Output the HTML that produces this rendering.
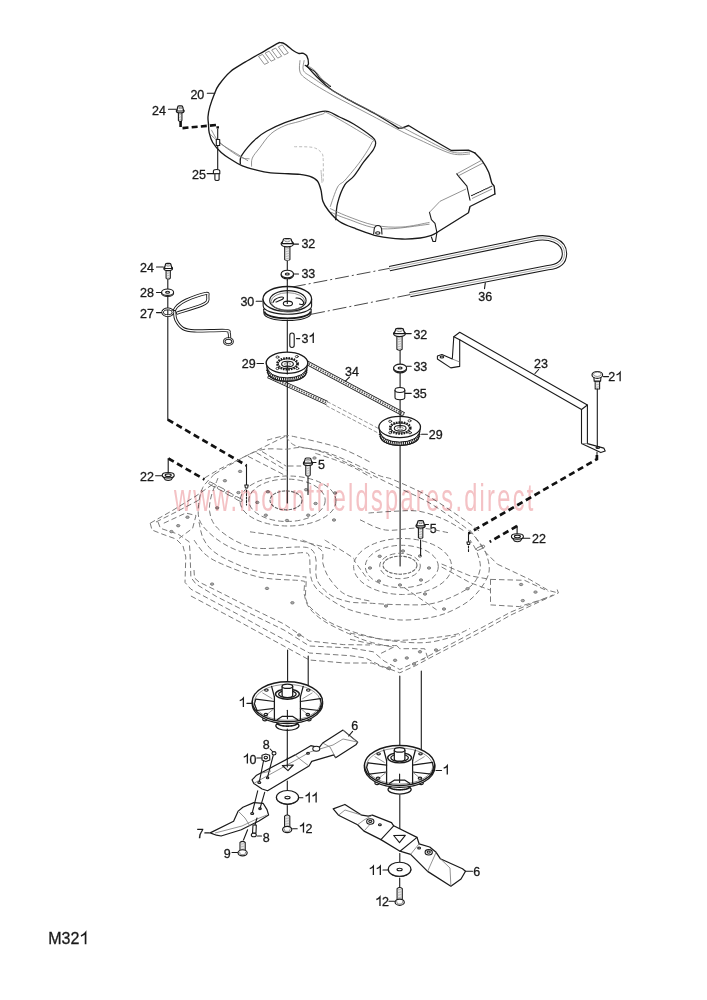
<!DOCTYPE html>
<html><head><meta charset="utf-8"><style>
html,body{margin:0;padding:0;background:#fff;}
svg{display:block;}
text{font-family:"Liberation Sans",sans-serif;font-size:12.5px;fill:#1a1a1a;stroke:#1a1a1a;stroke-width:0.3px;}
.k{fill:none;stroke:#1a1a1a;stroke-width:1.1;stroke-linejoin:round;stroke-linecap:round;}
.kt{fill:none;stroke:#1a1a1a;stroke-width:1.35;stroke-linejoin:round;stroke-linecap:round;}
.kf{fill:#fff;stroke:#1a1a1a;stroke-width:1.1;stroke-linejoin:round;}
.g{fill:none;stroke:#777;stroke-width:0.8;}
.gl{fill:none;stroke:#aaa;stroke-width:0.8;}
.d{fill:none;stroke:#7a7a7a;stroke-width:1;stroke-dasharray:5.5 3;}
.hd{fill:none;stroke:#111;stroke-width:2.7;stroke-dasharray:6.2 3.8;}
.dd{fill:none;stroke:#333;stroke-width:0.9;stroke-dasharray:14 3 2 3;}
.wm{font-size:38px;fill:#f0a8ac;}
</style></head><body>
<svg width="707" height="1000" viewBox="0 0 707 1000">
<text x="190.4" y="99.0">20</text>
<text x="152.1" y="115.0">24</text>
<text x="301.4" y="248.2">32</text>
<text x="301.4" y="277.7">33</text>
<text x="140.1" y="272.4">24</text>
<text x="140.1" y="296.5">28</text>
<text x="140.1" y="317.7">27</text>
<text x="240.4" y="305.5">30</text>
<text x="301.4" y="342.9">3</text>
<path d="M313.23 342.90 L313.23 334.02 Q311.73 335.98 309.60 336.51" fill="none" stroke="#1a1a1a" stroke-width="1.31" stroke-linejoin="miter"/>
<text x="241.8" y="367.6">29</text>
<text x="345.0" y="375.5">34</text>
<text x="413.4" y="338.8">32</text>
<text x="413.4" y="370.6">33</text>
<text x="412.9" y="397.8">35</text>
<text x="428.8" y="439.1">29</text>
<text x="478.2" y="300.9">36</text>
<text x="534.1" y="368.1">23</text>
<text x="608.3" y="381.2">2</text>
<path d="M620.13 381.20 L620.13 372.32 Q618.63 374.28 616.50 374.81" fill="none" stroke="#1a1a1a" stroke-width="1.31" stroke-linejoin="miter"/>
<text x="140.1" y="480.5">22</text>
<text x="318.1" y="469.2">5</text>
<text x="429.8" y="533.4">5</text>
<text x="532.1" y="543.2">22</text>
<path d="M243.38 707.00 L243.38 698.12 Q241.88 700.08 239.75 700.61" fill="none" stroke="#1a1a1a" stroke-width="1.31" stroke-linejoin="miter"/>
<text x="351.3" y="729.9">6</text>
<text x="262.7" y="748.7">8</text>
<path d="M247.38 763.50 L247.38 754.62 Q245.88 756.58 243.75 757.11" fill="none" stroke="#1a1a1a" stroke-width="1.31" stroke-linejoin="miter"/>
<text x="249.4" y="763.5">0</text>
<path d="M309.18 802.40 L309.18 793.52 Q307.68 795.48 305.55 796.01" fill="none" stroke="#1a1a1a" stroke-width="1.31" stroke-linejoin="miter"/>
<path d="M316.12 802.40 L316.12 793.52 Q314.62 795.48 312.50 796.01" fill="none" stroke="#1a1a1a" stroke-width="1.31" stroke-linejoin="miter"/>
<path d="M303.48 832.60 L303.48 823.73 Q301.98 825.68 299.85 826.21" fill="none" stroke="#1a1a1a" stroke-width="1.31" stroke-linejoin="miter"/>
<text x="305.6" y="832.6">2</text>
<text x="196.8" y="838.0">7</text>
<text x="262.7" y="842.2">8</text>
<text x="223.7" y="857.5">9</text>
<path d="M447.28 774.60 L447.28 765.73 Q445.78 767.68 443.65 768.21" fill="none" stroke="#1a1a1a" stroke-width="1.31" stroke-linejoin="miter"/>
<path d="M373.38 875.00 L373.38 866.12 Q371.88 868.08 369.75 868.61" fill="none" stroke="#1a1a1a" stroke-width="1.31" stroke-linejoin="miter"/>
<path d="M380.32 875.00 L380.32 866.12 Q378.82 868.08 376.70 868.61" fill="none" stroke="#1a1a1a" stroke-width="1.31" stroke-linejoin="miter"/>
<path d="M379.98 905.90 L379.98 897.02 Q378.48 898.98 376.35 899.51" fill="none" stroke="#1a1a1a" stroke-width="1.31" stroke-linejoin="miter"/>
<text x="382.1" y="905.9">2</text>
<text x="473.3" y="876.3">6</text>
<text x="48.2" y="944.2" style="font-size:16px">M32</text>
<path d="M85.56 944.20 L85.56 932.84 Q83.64 935.34 80.92 936.02" fill="none" stroke="#1a1a1a" stroke-width="1.68" stroke-linejoin="miter"/>
<path class="kt" d="M208.5 124.1 C208.4 122.9 207.8 119.7 208.0 116.8 C208.2 113.9 208.8 110.4 209.9 106.6 C211.0 102.8 212.9 97.5 214.4 93.9 C215.9 90.3 216.1 88.8 218.8 85.0 C221.5 81.2 226.2 75.2 230.6 71.4 C235.0 67.6 239.3 65.6 245.0 62.2 C250.7 58.8 259.4 53.9 264.8 50.8 C270.2 47.7 275.1 44.8 277.7 43.4 C280.3 42.0 279.5 42.6 280.6 42.7 C281.8 42.8 282.5 42.5 284.6 43.9 C286.8 45.2 291.2 49.2 293.5 50.8 C295.8 52.4 297.2 52.9 298.5 53.3 C299.8 53.7 300.9 53.3 301.4 53.3" />
<path class="kt" d="M301.4 53.3 C301.7 53.3 302.5 53.0 303.4 53.4 C304.3 53.8 305.9 54.2 306.8 55.9 C307.7 57.6 308.5 61.9 308.5 63.6 C308.5 65.3 307.2 65.6 307.0 66.0" />
<path class="k" d="M305.1 65.3 C306.0 65.9 308.5 67.6 310.2 68.7 C311.9 69.8 313.6 70.4 315.3 72.1 C317.0 73.8 318.4 76.9 320.4 78.9 C322.4 80.9 325.5 82.6 327.2 83.9 C328.9 85.2 329.9 86.1 330.5 86.5" />
<path class="g" d="M308.5 66.1 C309.4 66.7 312.0 68.2 313.6 69.5 C315.2 70.8 316.6 72.4 318.0 74.0 C319.4 75.6 320.0 77.0 322.0 79.0 C324.0 81.0 328.7 84.8 330.0 86.0" />
<path class="kt" d="M307.0 66.0 C308.5 67.7 312.1 72.2 316.0 76.0 C319.9 79.8 324.7 84.8 330.5 89.0 C336.3 93.2 343.2 96.7 350.9 100.9 C358.5 105.2 368.5 110.0 376.4 114.5 C384.3 119.0 394.7 125.8 398.4 128.1" />
<path class="kt" d="M398.4 128.1 L401.8 128.1 L408.6 125.5 L420.0 132.5 L451.3 150.5 L468.5 150.1 L474.7 152.8" />
<path class="kt" d="M474.7 152.8 C476.0 154.2 480.2 158.1 482.5 161.3 C484.8 164.5 487.1 168.6 488.7 172.2 C490.2 175.8 490.9 180.8 491.8 183.1 C492.7 185.4 493.6 184.4 494.1 186.2 C494.6 188.0 494.8 192.7 494.9 194.0" />
<path class="kt" d="M494.9 194.0 L470.0 206.5 L468.5 212.7 L436.9 232.5" />
<path class="k" d="M431.4 237.0 L433.0 241.5 L435.5 241.5 L436.9 232.5" />
<path class="kt" d="M436.9 232.5 C436.0 233.0 434.2 234.4 431.4 235.3 C428.6 236.2 425.2 237.4 420.3 238.0 C415.4 238.6 409.1 239.3 402.0 239.0 C394.9 238.7 385.7 237.9 378.0 236.2 C370.3 234.5 362.4 231.2 356.0 228.8 C349.6 226.4 344.0 224.6 339.4 221.5 C334.8 218.4 331.1 213.9 328.4 210.5 C325.6 207.1 324.1 204.7 322.9 201.3 C321.7 197.9 321.9 193.6 321.0 190.2 C320.1 186.8 319.2 183.3 317.4 181.0 C315.6 178.7 312.9 177.5 310.0 176.4 C307.1 175.3 304.2 174.9 300.0 174.4 C295.8 173.9 289.8 173.8 284.9 173.6 C280.0 173.3 275.4 173.5 270.7 172.9 C266.0 172.3 261.3 171.3 256.6 170.1 C251.9 168.9 246.7 167.7 242.4 165.9 C238.2 164.1 234.6 161.8 231.1 159.5 C227.6 157.2 224.3 155.2 221.2 152.4 C218.1 149.6 214.7 145.8 212.7 142.5 C210.7 139.2 209.9 135.7 209.2 132.6 C208.5 129.5 208.6 125.5 208.5 124.1" />
<path class="g" d="M300.0 60.2 C300.0 62.2 298.6 68.7 300.0 72.1 C301.4 75.5 302.9 76.5 308.5 80.5 C314.1 84.5 324.0 90.3 333.9 95.8 C343.8 101.3 356.6 107.6 367.9 113.6 C379.2 119.5 393.1 127.1 401.8 131.5 C410.5 135.9 411.8 136.3 420.0 140.0 C428.2 143.7 443.0 151.3 451.3 153.6 C459.6 155.9 466.9 153.9 470.0 154.0" />
<path class="g" d="M304.2 60.2 C304.1 61.9 302.1 67.6 303.4 70.4 C304.7 73.2 306.8 73.7 311.9 77.2 C317.0 80.7 324.6 86.1 333.9 91.5 C343.2 96.9 356.6 103.6 367.9 109.5 C379.2 115.4 393.1 122.5 401.8 127.0 C410.5 131.5 411.8 132.4 420.0 136.5 C428.2 140.6 443.0 149.2 451.3 151.8 C459.6 154.4 466.9 152.0 470.0 152.0" />
<path class="g" d="M258.5 56.3 L262.5 54.4 L268.5 62.5 L264.5 64.4Z" />
<path class="g" d="M265.1 53.1 L269.1 51.2 L275.1 59.4 L271.1 61.2Z" />
<path class="g" d="M271.7 50.0 L275.7 48.1 L281.7 56.2 L277.7 58.1Z" />
<path class="g" d="M278.3 46.8 L282.3 44.9 L288.3 53.0 L284.3 54.9Z" />
<path class="kt" d="M240.3 163.7 C240.4 162.5 239.7 159.5 241.0 156.7 C242.3 153.9 245.5 149.9 248.1 146.8 C250.7 143.7 253.5 140.9 256.6 138.3 C259.7 135.7 261.8 133.8 266.5 131.2 C271.2 128.6 278.6 125.2 284.9 122.7 C291.2 120.2 297.8 118.2 304.1 116.3 C310.4 114.4 318.2 112.0 322.5 111.3 C326.8 110.6 326.8 111.0 329.6 112.0 C332.4 113.0 335.5 115.0 339.5 117.0 C343.5 119.0 348.2 120.7 353.6 124.0 C359.0 127.3 368.3 133.7 372.0 136.8 C375.7 139.9 375.4 140.3 375.6 142.4 C375.9 144.5 375.5 146.2 373.5 149.5 C371.5 152.8 366.8 157.7 363.5 162.2 C360.2 166.7 356.7 172.7 353.6 176.4 C350.5 180.2 347.6 180.2 344.9 184.7 C342.2 189.1 339.1 197.3 337.6 203.1 C336.1 208.9 336.0 216.9 335.7 219.7" style="stroke-width:1.3"/>
<path class="g" d="M251.6 166.6 C251.7 165.2 251.0 161.2 252.3 158.1 C253.6 155.0 256.3 152.2 259.4 148.2 C262.5 144.2 266.4 137.8 270.7 134.0 C274.9 130.2 280.0 127.7 284.9 125.6 C289.8 123.5 293.7 123.2 300.0 121.3 C306.3 119.4 317.6 115.3 322.5 114.1 C327.4 112.9 321.6 110.1 329.6 114.1 C337.6 118.1 363.5 133.5 370.6 138.2 C377.7 142.9 373.6 138.6 372.0 142.4 C370.4 146.2 365.2 154.5 360.7 160.8 C356.2 167.1 349.0 175.6 345.2 180.0 C341.4 184.4 340.1 182.5 337.6 187.0 C335.1 191.5 331.4 203.5 330.2 206.8" />
<path class="gl" d="M294.2 146.7 C297.3 146.8 308.1 146.5 312.6 147.4 C317.1 148.3 319.3 150.3 321.1 152.3 C322.9 154.3 322.9 154.5 323.2 159.4 C323.5 164.3 323.2 178.2 323.2 182.0" stroke-dasharray="3 2"/>
<path class="gl" d="M321.0 170.0 C321.2 172.2 321.8 180.8 322.0 182.9" />
<path class="g" d="M211.3 129.8 C212.7 131.9 215.1 138.0 219.8 142.5 C224.5 147.0 234.7 154.0 239.6 156.7 C244.5 159.4 247.8 158.5 249.5 158.8" />
<path class="g" d="M210.0 134.0 C211.9 135.7 216.7 140.7 221.2 144.0 C225.7 147.3 232.3 151.0 236.8 153.8 C241.3 156.6 246.2 159.7 248.1 160.9" />
<path class="g" d="M330.2 208.6 C333.0 209.8 339.4 213.2 346.8 216.0 C354.2 218.8 365.2 223.4 374.4 225.2 C383.6 227.0 392.8 227.5 402.0 227.0 C411.2 226.5 424.9 223.2 429.5 222.4" />
<path class="g" d="M331.1 212.3 C333.7 213.4 338.4 215.9 346.8 218.7 C355.2 221.4 367.9 227.9 381.7 228.8 C395.5 229.7 421.5 225.0 429.5 224.2" />
<path class="k" d="M456.8 173.8 L459.1 176.9 L466.9 186.2 L470.0 200.2" />
<path class="k" d="M429.5 212.3 L431.4 219.7 L435.0 223.3 L436.9 232.5" />
<path class="g" d="M456.8 173.8 L482.0 160.0" />
<path class="g" d="M458.0 176.0 L483.0 163.0" />
<path class="g" d="M429.5 212.3 L440.0 201.3 L466.0 189.0" />
<path class="k" d="M471.6 195.6 L491.8 186.2" stroke-dasharray="1 1.2"/>
<path class="g" d="M472.0 198.5 L492.0 189.0" />
<path class="kf" d="M373.6 234.5 L374.2 229 A3.8 4.5 0 0 1 381.6 229 L382 234.5"/>
<ellipse class="k" cx="377.8" cy="233" rx="2.2" ry="1.2"/>
<path class="kf" d="M178.4 112.0 L178.4 120.5 Q180.2 122.5 181.9 120.5 L181.9 112.0 Z"/>
<line class="gl" x1="179.0" y1="114.0" x2="181.3" y2="114.8"/>
<line class="gl" x1="179.0" y1="115.8" x2="181.3" y2="116.5"/>
<line class="gl" x1="179.0" y1="117.5" x2="181.3" y2="118.2"/>
<line class="gl" x1="179.0" y1="119.1" x2="181.3" y2="119.8"/>
<line class="gl" x1="179.0" y1="120.8" x2="181.3" y2="121.5"/>
<ellipse class="kf" cx="180.2" cy="111.0" rx="3.9" ry="1.9" style="stroke-width:1.2"/>
<path class="kf" d="M176.8 111.0 L177.6 107.4 Q177.6 105.8 179.0 105.8 L181.4 105.8 Q182.8 105.8 182.8 107.4 L183.6 111.0 Z" style="stroke-width:1.2"/>
<ellipse class="g" cx="180.2" cy="108.0" rx="1.8" ry="0.7"/>
<line class="k" x1="168.5" y1="109.2" x2="176.2" y2="109.2"/>
<path class="hd" d="M180.6 121.0 L180.6 128.3 L217.7 124.9 L217.7 128.6" style="stroke-width:2.6;stroke-dasharray:6 3.2"/>
<line class="k" x1="217.7" y1="129.0" x2="217.7" y2="169.4"/>
<path class="kf" d="M216.3 139.5 L216.3 145.5 L219.7 145.5 L219.7 139.5 Z"/>
<path class="kf" d="M213.4 171 A3.2 1.5 0 0 1 219.8 171 L219.8 173.8 L213.4 173.8 Z"/>
<path class="kf" d="M214.9 173.8 L214.9 179.5 A2.1 1 0 0 0 219.1 179.5 L219.1 173.8 Z"/>
<line class="k" x1="207.1" y1="173.6" x2="213.2" y2="173.6"/>
<text x="192.1" y="178.6">25</text>
<line class="k" x1="207.3" y1="93.2" x2="214.7" y2="93.2"/>
<line class="k" x1="287.3" y1="250.0" x2="287.3" y2="280.0"/>
<path class="kf" d="M284.7 245.9 L284.7 259.6 Q287.3 261.6 289.9 259.6 L289.9 245.9 Z"/>
<line class="gl" x1="285.3" y1="247.9" x2="289.3" y2="248.6"/>
<line class="gl" x1="285.3" y1="249.6" x2="289.3" y2="250.3"/>
<line class="gl" x1="285.3" y1="251.3" x2="289.3" y2="252.0"/>
<line class="gl" x1="285.3" y1="253.0" x2="289.3" y2="253.7"/>
<line class="gl" x1="285.3" y1="254.7" x2="289.3" y2="255.4"/>
<line class="gl" x1="285.3" y1="256.4" x2="289.3" y2="257.1"/>
<line class="gl" x1="285.3" y1="258.1" x2="289.3" y2="258.8"/>
<line class="gl" x1="285.3" y1="259.8" x2="289.3" y2="260.5"/>
<ellipse class="kf" cx="287.3" cy="243.7" rx="6.2" ry="3.1" style="stroke-width:1.2"/>
<path class="kf" d="M281.8 243.7 L283.2 240.1 Q283.2 238.5 285.5 238.5 L289.1 238.5 Q291.4 238.5 291.4 240.1 L292.8 243.7 Z" style="stroke-width:1.2"/>
<ellipse class="g" cx="287.3" cy="240.7" rx="2.8" ry="1.1"/>
<line class="k" x1="293.8" y1="244.1" x2="298.5" y2="244.1"/>
<ellipse class="kf" cx="287.3" cy="275.0" rx="6.2" ry="3.8"/>
<ellipse class="kf" cx="287.3" cy="274.0" rx="6.2" ry="3.8"/>
<ellipse class="k" cx="287.3" cy="274.0" rx="2.0" ry="1.0"/>
<line class="k" x1="293.8" y1="274.0" x2="298.5" y2="274.0"/>
<path class="dd" d="M291.9 287.1 L391.3 268.0" />
<path class="dd" d="M311.1 314.3 L410.0 294.6" />
<path class="kf" d="M263.6 309 L264 313.5 A23.5 7 0 0 0 311 313.5 L311.2 309 Z"/>
<path d="M264.5 311.5 A23 6.8 0 0 0 310.5 311.5" fill="none" stroke="#1a1a1a" stroke-width="1.8"/>
<path class="kf" d="M263 299 L263.2 306 A24.2 8.3 0 0 0 311.6 306 L311.6 299 Z"/>
<ellipse class="kf" cx="287.3" cy="299" rx="24.3" ry="12.5" style="stroke-width:1.3"/>
<ellipse class="k" cx="287.9" cy="300.5" rx="18.2" ry="9.9"/>
<ellipse class="g" cx="287.9" cy="301.5" rx="16.8" ry="8.8"/>
<ellipse class="kf" cx="287.9" cy="303.5" rx="4.6" ry="2.4"/>
<path class="k" d="M273.0 302.5 C273.3 302.0 273.8 300.4 275.0 299.5 C276.2 298.6 278.6 297.5 280.0 297.2 C281.4 296.9 283.2 297.1 283.5 297.5 C283.8 297.9 283.2 298.8 282.0 299.5 C280.8 300.2 277.0 301.6 276.0 302.0" />
<path class="k" d="M296.0 298.0 C296.7 298.1 298.8 297.8 300.0 298.5 C301.2 299.2 303.1 301.0 303.5 302.0 C303.9 303.0 303.2 304.2 302.5 304.5 C301.8 304.8 300.0 304.1 299.5 304.0" />
<path class="g" d="M280.0 311.0 C281.7 311.2 286.7 312.0 290.0 312.0 C293.3 312.0 298.3 311.2 300.0 311.0" />
<line class="k" x1="287.3" y1="303.5" x2="287.3" y2="280.0"/>
<line class="k" x1="256.2" y1="301.3" x2="261.9" y2="301.3"/>
<rect class="kf" x="289.8" y="333" width="4.4" height="14.5" rx="2.2"/>
<line class="k" x1="296.5" y1="338.6" x2="299.8" y2="338.6"/>
<line class="k" x1="287.3" y1="320.0" x2="287.3" y2="362.0"/>
<path d="M389.5 268.6 L533.5 238.8 C549 235.5, 564.5 241, 564.5 253.5 C564.5 263, 557 266.8, 548 267.6 L410 294.6" fill="none" stroke="#1a1a1a" stroke-width="5.4" stroke-linejoin="round"/>
<path d="M389.5 268.6 L533.5 238.8 C549 235.5, 564.5 241, 564.5 253.5 C564.5 263, 557 266.8, 548 267.6 L410 294.6" fill="none" stroke="#fff" stroke-width="3.3" stroke-linejoin="round"/>
<path d="M389.5 268.6 L533.5 238.8 C549 235.5, 564.5 241, 564.5 253.5 C564.5 263, 557 266.8, 548 267.6 L410 294.6" fill="none" stroke="#999" stroke-width="0.8" stroke-linejoin="round"/>
<line class="k" x1="485.3" y1="282.8" x2="484.5" y2="288.6"/>
<line class="k" x1="167.8" y1="278.0" x2="167.8" y2="420.0"/>
<path class="kf" d="M166.1 269.8 L166.1 278.2 Q168.2 280.2 170.3 278.2 L170.3 269.8 Z"/>
<line class="gl" x1="166.7" y1="271.8" x2="169.7" y2="272.4"/>
<line class="gl" x1="166.7" y1="273.4" x2="169.7" y2="274.1"/>
<line class="gl" x1="166.7" y1="275.1" x2="169.7" y2="275.8"/>
<line class="gl" x1="166.7" y1="276.9" x2="169.7" y2="277.6"/>
<line class="gl" x1="166.7" y1="278.6" x2="169.7" y2="279.2"/>
<ellipse class="kf" cx="168.2" cy="268.5" rx="4.3" ry="2.1" style="stroke-width:1.2"/>
<path class="kf" d="M164.4 268.5 L165.4 264.9 Q165.4 263.3 166.9 263.3 L169.5 263.3 Q171.0 263.3 171.0 264.9 L172.0 268.5 Z" style="stroke-width:1.2"/>
<ellipse class="g" cx="168.2" cy="265.5" rx="1.9" ry="0.7"/>
<line class="k" x1="156.5" y1="267.0" x2="163.3" y2="267.0"/>
<ellipse class="kf" cx="167.6" cy="293.2" rx="6.0" ry="3.2"/>
<ellipse class="kf" cx="167.6" cy="292.2" rx="6.0" ry="3.2"/>
<ellipse class="k" cx="167.6" cy="292.2" rx="2.0" ry="1.0"/>
<line class="k" x1="156.5" y1="292.5" x2="161.5" y2="292.5"/>
<line class="k" x1="156.5" y1="312.6" x2="161.5" y2="312.6"/>
<path d="M174.0 311.0 C174.6 310.1 175.4 307.7 177.4 305.9 C179.4 304.1 181.2 302.4 185.9 300.3 C190.6 298.2 202.0 294.2 205.7 293.5 C209.3 292.8 207.6 294.6 207.8 296.0 C208.0 297.4 208.2 300.2 207.1 301.7 C206.0 303.2 206.4 303.3 201.5 305.2 C196.6 307.1 181.4 311.7 177.4 313.0" fill="none" stroke="#1a1a1a" stroke-width="3.2" stroke-linejoin="round" stroke-linecap="round"/>
<path d="M174.0 311.0 C174.6 310.1 175.4 307.7 177.4 305.9 C179.4 304.1 181.2 302.4 185.9 300.3 C190.6 298.2 202.0 294.2 205.7 293.5 C209.3 292.8 207.6 294.6 207.8 296.0 C208.0 297.4 208.2 300.2 207.1 301.7 C206.0 303.2 206.4 303.3 201.5 305.2 C196.6 307.1 181.4 311.7 177.4 313.0" fill="none" stroke="#fff" stroke-width="1.4" stroke-linejoin="round" stroke-linecap="round"/>
<path d="M174.6 311.6 C174.8 313.0 174.6 317.2 176.0 320.0 C177.4 322.8 180.0 326.7 183.1 328.5 C186.2 330.3 187.3 330.6 194.4 330.9 C201.5 331.2 219.7 330.1 225.5 330.5 C231.3 330.9 228.4 331.8 229.1 333.0 C229.8 334.2 229.5 337.2 229.6 338.0" fill="none" stroke="#1a1a1a" stroke-width="3.2" stroke-linejoin="round" stroke-linecap="round"/>
<path d="M174.6 311.6 C174.8 313.0 174.6 317.2 176.0 320.0 C177.4 322.8 180.0 326.7 183.1 328.5 C186.2 330.3 187.3 330.6 194.4 330.9 C201.5 331.2 219.7 330.1 225.5 330.5 C231.3 330.9 228.4 331.8 229.1 333.0 C229.8 334.2 229.5 337.2 229.6 338.0" fill="none" stroke="#fff" stroke-width="1.4" stroke-linejoin="round" stroke-linecap="round"/>
<ellipse cx="228.4" cy="341.5" rx="4.2" ry="3" fill="none" stroke="#1a1a1a" stroke-width="2.6"/>
<ellipse cx="228.4" cy="341.5" rx="4.2" ry="3" fill="none" stroke="#fff" stroke-width="0.9"/>
<ellipse cx="167.8" cy="312.3" rx="5.2" ry="3.4" fill="none" stroke="#1a1a1a" stroke-width="2.6"/>
<ellipse cx="167.8" cy="312.3" rx="5.2" ry="3.4" fill="none" stroke="#fff" stroke-width="1"/>
<path d="M306.5 362.5 L404.0 414.5" fill="none" stroke="#1a1a1a" stroke-width="4.4"/>
<path d="M306.5 362.5 L404.0 414.5" fill="none" stroke="#fff" stroke-width="2.8"/>
<path d="M306.5 362.5 L404.0 414.5" fill="none" stroke="#555" stroke-width="1.8" stroke-dasharray="1.4 1.2"/>
<path d="M268.0 376.0 L327.0 403.0" fill="none" stroke="#1a1a1a" stroke-width="4.4"/>
<path d="M268.0 376.0 L327.0 403.0" fill="none" stroke="#fff" stroke-width="2.8"/>
<path d="M268.0 376.0 L327.0 403.0" fill="none" stroke="#555" stroke-width="1.8" stroke-dasharray="1.4 1.2"/>
<path class="d" d="M327.0 401.5 L379.5 429.0" style="stroke-width:0.8;stroke-dasharray:4 2"/>
<path class="d" d="M326.0 405.5 L379.0 433.5" style="stroke-width:0.8;stroke-dasharray:4 2"/>
<path class="kf" d="M266.2 362.8 L267.7 372.3 A19.3 9.0 0 0 0 306.3 372.3 L307.8 362.8 Z"/>
<path d="M267.7 369.8 A19.3 9.5 0 0 0 306.3 369.8" fill="none" stroke="#1a1a1a" stroke-width="3.2" stroke-dasharray="1 0.9"/>
<path d="M267.0 367.3 A20.0 10.6 0 0 0 307.0 367.3" fill="none" stroke="#1a1a1a" stroke-width="1"/>
<path d="M267.7 372.3 A19.3 9.0 0 0 0 306.3 372.3" fill="none" stroke="#1a1a1a" stroke-width="1"/>
<ellipse class="kf" cx="287.0" cy="362.8" rx="20.8" ry="10.6" style="stroke-width:1.3"/>
<ellipse cx="287.5" cy="363.8" rx="10.3" ry="5.7" fill="none" stroke="#1a1a1a" stroke-width="2.2" stroke-dasharray="1.6 1"/>
<ellipse cx="287.5" cy="363.8" rx="9.3" ry="5" fill="none" stroke="#1a1a1a" stroke-width="0.9"/>
<ellipse class="k" cx="287.5" cy="364.1" rx="5.9" ry="2.8"/>
<ellipse class="g" cx="287.5" cy="364.1" rx="3" ry="1.5"/>
<ellipse class="k" cx="277.5" cy="357.1" rx="1.5" ry="1.1" style="stroke-width:0.8"/>
<ellipse class="k" cx="296.8" cy="356.6" rx="1.5" ry="1.1" style="stroke-width:0.8"/>
<ellipse class="k" cx="277.5" cy="368.5" rx="1.5" ry="1.1" style="stroke-width:0.8"/>
<ellipse class="k" cx="297.3" cy="368.5" rx="1.5" ry="1.1" style="stroke-width:0.8"/>
<line class="k" x1="287.3" y1="374.0" x2="287.3" y2="362.0"/>
<line class="k" x1="287.3" y1="381.0" x2="287.3" y2="503.0"/>
<line class="k" x1="257.0" y1="363.5" x2="263.5" y2="363.5"/>
<line class="k" x1="349.5" y1="377.2" x2="345.4" y2="381.2"/>
<line class="k" x1="400.1" y1="345.0" x2="400.1" y2="428.0"/>
<path class="kf" d="M396.9 335.7 L396.9 349.2 Q399.5 351.2 402.1 349.2 L402.1 335.7 Z"/>
<line class="gl" x1="397.5" y1="337.7" x2="401.5" y2="338.4"/>
<line class="gl" x1="397.5" y1="339.4" x2="401.5" y2="340.1"/>
<line class="gl" x1="397.5" y1="341.1" x2="401.5" y2="341.8"/>
<line class="gl" x1="397.5" y1="342.8" x2="401.5" y2="343.5"/>
<line class="gl" x1="397.5" y1="344.5" x2="401.5" y2="345.2"/>
<line class="gl" x1="397.5" y1="346.2" x2="401.5" y2="346.9"/>
<line class="gl" x1="397.5" y1="347.9" x2="401.5" y2="348.6"/>
<ellipse class="kf" cx="399.5" cy="333.6" rx="6.0" ry="3.0" style="stroke-width:1.2"/>
<path class="kf" d="M394.2 333.6 L395.5 330.0 Q395.5 328.4 397.7 328.4 L401.3 328.4 Q403.5 328.4 403.5 330.0 L404.8 333.6 Z" style="stroke-width:1.2"/>
<ellipse class="g" cx="399.5" cy="330.6" rx="2.7" ry="1.0"/>
<line class="k" x1="405.5" y1="333.6" x2="411.2" y2="333.6"/>
<ellipse class="kf" cx="400.1" cy="369.0" rx="6.5" ry="3.9"/>
<ellipse class="kf" cx="400.1" cy="368.0" rx="6.5" ry="3.9"/>
<ellipse class="k" cx="400.1" cy="368.0" rx="2.0" ry="1.0"/>
<line class="k" x1="406.6" y1="366.3" x2="411.2" y2="366.3"/>
<path class="kf" d="M395 390 L395 397.5 A4.9 2.2 0 0 0 404.8 397.5 L404.8 390"/>
<ellipse class="kf" cx="399.9" cy="390" rx="4.9" ry="2.5"/>
<line class="k" x1="405.3" y1="393.4" x2="411.2" y2="393.4"/>
<path class="kf" d="M378.9 427.0 L380.4 436.5 A19.3 9.0 0 0 0 419.0 436.5 L420.5 427.0 Z"/>
<path d="M380.4 434.0 A19.3 9.5 0 0 0 419.0 434.0" fill="none" stroke="#1a1a1a" stroke-width="3.2" stroke-dasharray="1 0.9"/>
<path d="M379.7 431.5 A20.0 10.6 0 0 0 419.7 431.5" fill="none" stroke="#1a1a1a" stroke-width="1"/>
<path d="M380.4 436.5 A19.3 9.0 0 0 0 419.0 436.5" fill="none" stroke="#1a1a1a" stroke-width="1"/>
<ellipse class="kf" cx="399.7" cy="427.0" rx="20.8" ry="10.6" style="stroke-width:1.3"/>
<ellipse cx="400.2" cy="428.0" rx="10.3" ry="5.7" fill="none" stroke="#1a1a1a" stroke-width="2.2" stroke-dasharray="1.6 1"/>
<ellipse cx="400.2" cy="428.0" rx="9.3" ry="5" fill="none" stroke="#1a1a1a" stroke-width="0.9"/>
<ellipse class="k" cx="400.2" cy="428.3" rx="5.9" ry="2.8"/>
<ellipse class="g" cx="400.2" cy="428.3" rx="3" ry="1.5"/>
<ellipse class="k" cx="390.2" cy="421.3" rx="1.5" ry="1.1" style="stroke-width:0.8"/>
<ellipse class="k" cx="409.5" cy="420.8" rx="1.5" ry="1.1" style="stroke-width:0.8"/>
<ellipse class="k" cx="390.2" cy="432.7" rx="1.5" ry="1.1" style="stroke-width:0.8"/>
<ellipse class="k" cx="410.0" cy="432.7" rx="1.5" ry="1.1" style="stroke-width:0.8"/>
<line class="k" x1="400.1" y1="416.5" x2="400.1" y2="428.0"/>
<line class="k" x1="400.1" y1="446.0" x2="400.1" y2="566.0"/>
<line class="k" x1="421.6" y1="434.3" x2="427.4" y2="434.3"/>
<path class="kf" d="M437.4 356.0 L441.9 354.5 L452.3 359.0 L453.8 336.7 L459.7 332.3 L587.4 405.0 L587.4 443.6 L603.8 448.1 L605.2 451.1 L600.8 452.6 L581.5 443.6 L581.5 409.5 L459.7 339.7 L459.7 366.4 L450.8 367.9 L437.4 359.0Z" />
<path class="k" d="M453.8 336.7 L459.7 339.7" />
<path class="k" d="M581.5 409.5 L587.4 405.0" />
<path class="g" d="M452.3 359.0 L459.7 362.0" />
<path class="g" d="M587.4 443.6 L581.5 443.6" />
<ellipse class="k" cx="441.9" cy="357" rx="1.8" ry="1"/>
<ellipse class="k" cx="597.8" cy="447.5" rx="1.8" ry="1"/>
<line class="k" x1="538.6" y1="369.5" x2="535.0" y2="373.5"/>
<path class="kf" d="M595.2 381 L595.2 389 L599.6 389 L599.6 381 Z"/>
<line class="gl" x1="595.6" y1="382.5" x2="599.2" y2="383.0"/>
<line class="gl" x1="595.6" y1="384.2" x2="599.2" y2="384.7"/>
<line class="gl" x1="595.6" y1="385.9" x2="599.2" y2="386.4"/>
<line class="gl" x1="595.6" y1="387.6" x2="599.2" y2="388.1"/>
<path class="kf" d="M593.9 377.5 L594.2 381.1 L600.6 381.1 L600.9 377.5 Z"/>
<ellipse class="kf" cx="597.3" cy="374.9" rx="5.3" ry="3.4" style="stroke-width:1.2"/>
<ellipse class="g" cx="597.3" cy="374.3" rx="3.8" ry="2.2"/>
<line class="k" x1="603.5" y1="376.6" x2="608.6" y2="376.6"/>
<line class="k" x1="597.3" y1="389.0" x2="597.3" y2="447.5"/>
<line class="k" x1="597.0" y1="452.0" x2="597.0" y2="456.0"/>
<path class="hd" d="M167.8 419.6 L246.5 465.5" />
<line class="k" x1="246.5" y1="465.5" x2="246.5" y2="485.0"/>
<path class="kf" d="M244.8 485 L248.2 485 L247.6 488 L245.4 488 Z"/>
<path class="k" d="M246.5 490.0 L246.5 505.0" style="stroke-dasharray:2 1.5"/>
<path class="hd" d="M168.4 458.5 L204.5 479.5" />
<line class="k" x1="168.2" y1="458.5" x2="168.2" y2="475.0"/>
<path class="hd" d="M596.9 455.0 L596.9 459.1 L468.5 533.4" />
<line class="k" x1="468.5" y1="533.4" x2="468.5" y2="542.0"/>
<path class="kf" d="M466.9 542 L470.1 542 L469.6 544.5 L467.4 544.5 Z"/>
<path class="k" d="M468.5 546.0 L468.5 553.0" style="stroke-dasharray:2 1.5"/>
<path class="hd" d="M517.1 526.0 L489.7 541.8" />
<line class="k" x1="517.1" y1="526.0" x2="517.1" y2="536.0"/>
<path class="d" d="M150.2 523.2 L152.0 530.0 L162.0 534.0 L176.0 539.0 L183.0 546.0 L185.8 557.0 L185.0 582.4 L190.9 589.2 L216.4 602.8 L241.8 616.4 L260.0 626.6 L309.4 653.0 L350.0 655.7 L365.6 658.0 L381.1 665.8 L399.8 672.8 L415.3 665.8 L435.6 654.9 L460.0 642.4 L477.0 634.0 L510.9 615.0 L558.4 593.0 L557.2 589.5" />
<path class="d" d="M158.0 522.0 L160.4 528.3 L178.2 534.2 L189.2 541.8 L190.0 551.9 L190.9 577.3 L196.0 584.1 L216.4 596.5 L250.0 613.5 L284.0 630.0 L309.4 646.0 L350.0 647.9 L373.3 651.8 L384.2 661.1 L399.8 669.5 L421.6 659.6 L460.0 639.3 L510.9 612.0 L553.0 595.0" />
<path class="d" d="M190.9 596.0 L216.4 609.5 L241.8 623.0 L260.0 633.0 L309.4 660.0 L345.0 663.0 L372.0 663.0 L390.0 670.0" />
<path class="d" d="M194.0 570.0 L194.5 578.0 L199.0 582.0 L216.4 590.5 L250.0 607.5 L284.0 624.0 L309.4 641.0 L343.3 644.6 L370.0 645.0" />
<path class="d" d="M381.1 653.3 L396.7 645.6 L399.8 648.7 L424.7 648.7 L427.8 658.0 L421.6 659.6" />
<path class="d" d="M350.0 633.1 C357.0 634.4 379.0 639.4 392.0 640.9 C405.0 642.4 416.5 643.4 427.8 642.4 C439.1 641.4 454.6 636.0 460.0 634.7" />
<path class="d" d="M350.0 639.3 C354.7 640.2 370.2 644.0 378.0 645.0 C385.8 646.0 393.6 645.5 396.7 645.6" />
<ellipse cx="395.1" cy="660.3" rx="1.7" ry="1.2" fill="#aaa" stroke="#777" stroke-width="0.9"/>
<ellipse cx="406.8" cy="658.0" rx="1.7" ry="1.2" fill="#aaa" stroke="#777" stroke-width="0.9"/>
<ellipse cx="420.0" cy="651.8" rx="1.7" ry="1.2" fill="#aaa" stroke="#777" stroke-width="0.9"/>
<path class="d" d="M150.2 523.2 L174.0 509.6 L196.0 496.0 L213.0 484.1" />
<path class="d" d="M156.0 522.0 L178.0 511.0 L199.0 500.0" />
<path class="d" d="M163.8 523.2 L185.8 513.0 L196.0 515.5 L192.6 528.3 L179.0 538.4" />
<path class="d" d="M214.7 474.0 C212.7 476.2 205.5 482.4 202.8 487.5 C200.1 492.6 199.2 499.1 198.6 504.5 C198.0 509.9 197.8 515.3 199.4 519.8 C201.0 524.3 203.9 527.6 207.9 531.6 C211.9 535.6 217.5 540.1 223.2 543.5 C228.8 546.9 235.7 550.1 241.8 552.0 C247.9 553.9 253.0 554.6 260.0 555.0 C267.0 555.4 276.6 554.8 284.0 554.4 C291.4 554.0 300.1 552.3 304.3 552.7 C308.5 553.1 308.4 553.5 309.4 557.0 C310.4 560.5 309.5 569.3 310.3 574.0 C311.1 578.7 311.9 581.6 314.0 585.0 C316.1 588.4 317.8 590.5 323.0 594.3 C328.2 598.1 337.2 604.4 345.0 607.9 C352.8 611.4 360.7 613.0 370.0 615.0 C379.3 617.0 390.1 619.7 400.9 620.0 C411.7 620.3 425.0 618.9 434.9 616.6 C444.8 614.3 453.3 610.3 460.3 606.4 C467.3 602.5 472.2 598.6 477.0 593.0 C481.8 587.4 487.5 579.4 488.9 572.6 C490.3 565.8 487.8 558.1 485.5 552.2 C483.2 546.3 478.2 541.0 475.3 537.0 C472.4 533.0 469.2 529.5 468.0 528.0" />
<path class="d" d="M218.0 478.0 C216.9 481.0 212.7 490.4 211.3 496.0 C209.9 501.6 209.0 506.5 209.6 511.3 C210.2 516.1 211.6 520.7 214.7 524.9 C217.8 529.1 223.2 533.3 228.3 536.7 C233.4 540.1 239.6 543.2 245.2 545.2 C250.8 547.2 252.9 548.2 262.0 548.5 C271.1 548.8 291.7 546.8 300.0 547.0 C308.3 547.2 309.3 547.8 312.0 550.0 C314.7 552.2 315.3 555.8 316.0 560.0 C316.7 564.2 315.3 570.8 316.0 575.0 C316.7 579.2 317.3 581.5 320.0 585.0 C322.7 588.5 327.0 593.2 332.0 596.0 C337.0 598.8 344.2 600.8 350.0 602.0 C355.8 603.2 358.5 602.5 367.0 603.0 C375.5 603.5 389.6 604.7 400.9 604.7 C412.2 604.7 423.6 605.8 434.9 603.0 C446.2 600.2 461.3 593.2 468.8 587.7 C476.3 582.2 478.6 575.9 480.0 570.0 C481.4 564.1 478.7 557.2 477.0 552.2 C475.3 547.2 471.2 542.0 470.0 540.0" />
<path class="d" d="M199.0 522.0 C199.7 524.7 200.7 533.2 203.0 538.0 C205.3 542.8 208.2 547.0 213.0 551.0 C217.8 555.0 224.2 558.5 232.0 562.0 C239.8 565.5 248.5 569.6 260.0 572.0 C271.5 574.4 293.3 575.3 301.0 576.5 C308.7 577.7 305.2 575.2 306.0 579.0 C306.8 582.8 304.6 594.0 306.0 599.4 C307.4 604.8 309.7 607.0 314.5 611.3 C319.3 615.5 325.6 620.7 334.9 624.9 C344.1 629.1 359.0 634.1 370.0 636.7 C381.0 639.3 387.3 640.5 400.9 640.3 C414.5 640.0 440.3 637.2 451.8 635.2 C463.3 633.2 467.0 629.5 470.0 628.4" />
<path class="d" d="M194.0 540.0 C195.8 542.3 199.9 549.6 204.5 553.6 C209.1 557.6 212.2 559.8 221.5 563.8 C230.8 567.8 246.8 574.5 260.0 577.3 C273.2 580.1 293.6 579.6 301.0 580.7 C308.4 581.8 303.8 581.7 304.3 584.0 C304.9 586.3 303.5 590.3 304.3 594.3 C305.1 598.3 306.0 603.5 309.4 608.0 C312.8 612.5 317.6 617.0 324.7 621.5 C331.8 626.0 344.2 631.6 351.8 635.0 C359.4 638.4 363.2 640.0 370.0 642.0 C376.8 644.0 388.7 646.2 392.4 647.1" />
<path class="d" d="M497.3 564.1 L529.6 579.4 L548.3 590.4 L558.4 593.0" />
<path class="d" d="M490.5 579.4 L524.5 580.3 L548.3 591.3" />
<path class="d" d="M490.5 579.4 L490.5 604.9 L519.4 606.6 L546.6 598.1" />
<path class="d" d="M475.3 537.0 L485.5 552.2 L497.3 564.1" />
<path class="d" d="M441.6 564.0 L470.0 575.8 L490.5 579.4" />
<path class="d" d="M441.6 567.0 L470.0 582.6 L490.0 590.0" />
<path class="d" d="M404.3 587.7 L436.6 609.8" />
<path class="d" d="M204.5 478.0 L219.8 468.9 L241.0 458.4 L286.3 435.8" />
<path class="d" d="M286.3 435.8 C286.8 436.6 287.2 439.0 289.0 440.7 C290.8 442.4 291.4 444.4 297.0 446.2 C302.6 447.9 314.6 449.1 322.4 451.2 C330.2 453.3 336.5 456.1 343.6 459.0 C350.7 461.9 358.8 466.0 364.9 468.8 C371.0 471.6 375.1 474.0 380.0 475.9 C384.9 477.8 386.0 476.6 394.0 480.0 C402.0 483.4 416.6 489.6 427.9 496.0 C439.2 502.4 453.1 512.2 461.8 518.1 C470.5 524.0 477.0 529.4 480.0 531.6" />
<path class="d" d="M214.7 474.0 C220.0 470.9 238.3 459.7 246.7 455.6 C255.1 451.5 258.4 450.3 265.0 449.2 C271.6 448.1 280.3 449.5 286.3 449.2 C292.3 448.9 295.2 447.1 301.2 447.6 C307.1 448.1 314.7 449.6 322.0 452.0 C329.3 454.4 337.0 458.3 345.0 462.0 C353.0 465.7 361.8 470.0 370.0 474.0 C378.2 478.0 384.4 481.1 394.0 485.8 C403.6 490.5 416.6 495.5 427.9 502.0 C439.2 508.5 453.9 519.1 461.8 524.9 C469.7 530.7 472.8 535.0 475.0 537.0" />
<path class="d" d="M248.0 456.3 L286.3 476.0" />
<path class="d" d="M256.6 452.8 L286.3 470.4" />
<path class="d" d="M262.0 451.5 L286.3 466.2" />
<path class="d" d="M288.0 466.0 L301.2 466.0" />
<path class="d" d="M315.4 453.3 C318.9 454.5 330.2 458.0 336.6 460.4 C343.0 462.8 347.6 464.5 353.5 467.4 C359.4 470.3 368.9 476.2 372.0 478.0" />
<path class="d" d="M250.0 531.8 C255.7 532.7 272.7 534.7 284.0 537.0 C295.3 539.3 309.4 543.2 317.9 545.4 C326.4 547.6 332.1 549.2 334.9 550.0" />
<path class="d" d="M267.0 440.2 C269.8 439.5 279.2 436.5 284.0 436.0 C288.8 435.5 286.7 435.0 296.0 437.0 C305.3 439.0 327.7 443.8 340.0 448.0 C352.3 452.2 365.0 459.7 370.0 462.0" />
<path class="d" d="M302.6 540.0 C305.7 541.7 317.9 546.2 321.3 550.2 C324.7 554.2 321.6 559.0 323.0 563.8 C324.4 568.6 326.1 573.9 329.8 579.0 C333.5 584.1 338.3 590.6 345.0 594.3 C351.7 598.0 365.8 600.0 370.0 601.1" />
<path class="d" d="M324.7 540.0 C329.2 542.8 346.7 553.3 351.8 557.0 C356.9 560.7 352.4 558.0 355.2 562.0 C358.0 566.0 366.5 577.6 368.8 580.7" />
<path class="d" d="M368.5 513.0 C372.8 512.7 385.5 511.6 394.0 511.3 C402.5 511.0 410.9 509.9 419.4 511.3 C427.9 512.7 437.3 516.4 444.9 519.8 C452.5 523.2 461.8 529.6 465.2 531.6" />
<path class="d" d="M360.0 519.8 C364.2 521.5 375.5 528.6 385.5 530.0 C395.5 531.4 409.2 527.5 420.0 528.0 C430.8 528.5 445.0 532.2 450.0 533.0" />
<ellipse cx="286" cy="500.4" rx="16" ry="9.5" fill="none" stroke="#666" stroke-width="1.1" stroke-dasharray="3.5 1.2"/>
<ellipse class="d" cx="287" cy="500.3" rx="38.2" ry="21.2"/>
<ellipse class="d" cx="288" cy="501" rx="48" ry="25"/>
<ellipse cx="400" cy="565.2" rx="17" ry="9" fill="none" stroke="#666" stroke-width="1.1" stroke-dasharray="3.5 1.2"/>
<ellipse class="d" cx="400" cy="566" rx="20.3" ry="12.7"/>
<ellipse class="d" cx="401.8" cy="566.5" rx="36.5" ry="21.2"/>
<ellipse class="d" cx="402.6" cy="566.5" rx="49" ry="28"/>
<ellipse cx="187.5" cy="517.2" rx="1.7" ry="1.2" fill="#aaa" stroke="#777" stroke-width="0.9"/>
<ellipse cx="178.2" cy="525.7" rx="1.7" ry="1.2" fill="#aaa" stroke="#777" stroke-width="0.9"/>
<ellipse cx="171.4" cy="531.6" rx="1.7" ry="1.2" fill="#aaa" stroke="#777" stroke-width="0.9"/>
<ellipse cx="240.1" cy="471.4" rx="1.7" ry="1.2" fill="#aaa" stroke="#777" stroke-width="0.9"/>
<ellipse cx="224.9" cy="480.7" rx="1.7" ry="1.2" fill="#aaa" stroke="#777" stroke-width="0.9"/>
<ellipse cx="217.2" cy="507.9" rx="1.7" ry="1.2" fill="#aaa" stroke="#777" stroke-width="0.9"/>
<ellipse cx="238.4" cy="492.6" rx="1.7" ry="1.2" fill="#aaa" stroke="#777" stroke-width="0.9"/>
<ellipse cx="267.0" cy="588.4" rx="1.7" ry="1.2" fill="#aaa" stroke="#777" stroke-width="0.9"/>
<ellipse cx="292.4" cy="602.8" rx="1.7" ry="1.2" fill="#aaa" stroke="#777" stroke-width="0.9"/>
<ellipse cx="299.2" cy="635.0" rx="1.7" ry="1.2" fill="#aaa" stroke="#777" stroke-width="0.9"/>
<ellipse cx="212.1" cy="584.1" rx="1.7" ry="1.2" fill="#aaa" stroke="#777" stroke-width="0.9"/>
<ellipse cx="257.3" cy="502.4" rx="1.7" ry="1.2" fill="#aaa" stroke="#777" stroke-width="0.9"/>
<ellipse cx="265.8" cy="515.2" rx="1.7" ry="1.2" fill="#aaa" stroke="#777" stroke-width="0.9"/>
<ellipse cx="287.0" cy="520.5" rx="1.7" ry="1.2" fill="#aaa" stroke="#777" stroke-width="0.9"/>
<ellipse cx="308.2" cy="515.2" rx="1.7" ry="1.2" fill="#aaa" stroke="#777" stroke-width="0.9"/>
<ellipse cx="315.6" cy="503.5" rx="1.7" ry="1.2" fill="#aaa" stroke="#777" stroke-width="0.9"/>
<ellipse cx="306.1" cy="489.7" rx="1.7" ry="1.2" fill="#aaa" stroke="#777" stroke-width="0.9"/>
<ellipse cx="267.9" cy="491.8" rx="1.7" ry="1.2" fill="#aaa" stroke="#777" stroke-width="0.9"/>
<ellipse cx="314.5" cy="458.0" rx="1.7" ry="1.2" fill="#aaa" stroke="#777" stroke-width="0.9"/>
<ellipse cx="335.0" cy="493.0" rx="1.7" ry="1.2" fill="#aaa" stroke="#777" stroke-width="0.9"/>
<ellipse cx="334.0" cy="520.0" rx="1.7" ry="1.2" fill="#aaa" stroke="#777" stroke-width="0.9"/>
<ellipse cx="379.7" cy="556.3" rx="1.7" ry="1.2" fill="#aaa" stroke="#777" stroke-width="0.9"/>
<ellipse cx="370.0" cy="568.0" rx="1.7" ry="1.2" fill="#aaa" stroke="#777" stroke-width="0.9"/>
<ellipse cx="379.0" cy="581.0" rx="1.7" ry="1.2" fill="#aaa" stroke="#777" stroke-width="0.9"/>
<ellipse cx="400.0" cy="585.0" rx="1.7" ry="1.2" fill="#aaa" stroke="#777" stroke-width="0.9"/>
<ellipse cx="421.0" cy="580.0" rx="1.7" ry="1.2" fill="#aaa" stroke="#777" stroke-width="0.9"/>
<ellipse cx="429.0" cy="568.0" rx="1.7" ry="1.2" fill="#aaa" stroke="#777" stroke-width="0.9"/>
<ellipse cx="420.0" cy="556.0" rx="1.7" ry="1.2" fill="#aaa" stroke="#777" stroke-width="0.9"/>
<ellipse cx="403.0" cy="551.0" rx="1.7" ry="1.2" fill="#aaa" stroke="#777" stroke-width="0.9"/>
<ellipse cx="521.1" cy="584.5" rx="1.7" ry="1.2" fill="#aaa" stroke="#777" stroke-width="0.9"/>
<ellipse cx="535.5" cy="592.1" rx="1.7" ry="1.2" fill="#aaa" stroke="#777" stroke-width="0.9"/>
<ellipse cx="522.8" cy="600.6" rx="1.7" ry="1.2" fill="#aaa" stroke="#777" stroke-width="0.9"/>
<ellipse cx="467.6" cy="588.7" rx="1.7" ry="1.2" fill="#aaa" stroke="#777" stroke-width="0.9"/>
<ellipse cx="425.0" cy="594.0" rx="1.7" ry="1.2" fill="#aaa" stroke="#777" stroke-width="0.9"/>
<ellipse cx="386.0" cy="606.0" rx="1.7" ry="1.2" fill="#aaa" stroke="#777" stroke-width="0.9"/>
<ellipse cx="444.0" cy="609.0" rx="1.7" ry="1.2" fill="#aaa" stroke="#777" stroke-width="0.9"/>
<ellipse cx="389.0" cy="668.0" rx="1.7" ry="1.2" fill="#aaa" stroke="#777" stroke-width="0.9"/>
<ellipse cx="414.0" cy="664.0" rx="1.7" ry="1.2" fill="#aaa" stroke="#777" stroke-width="0.9"/>
<ellipse cx="436.0" cy="650.0" rx="1.7" ry="1.2" fill="#aaa" stroke="#777" stroke-width="0.9"/>
<rect x="208.5" y="483.2" width="8" height="2.6" rx="1.3" fill="none" stroke="#666" stroke-width="0.8" transform="rotate(27 212.5 484.5)"/>
<rect x="217.0" y="487.7" width="8" height="2.6" rx="1.3" fill="none" stroke="#666" stroke-width="0.8" transform="rotate(27 221.0 489.0)"/>
<rect x="225.5" y="492.7" width="8" height="2.6" rx="1.3" fill="none" stroke="#666" stroke-width="0.8" transform="rotate(27 229.5 494.0)"/>
<rect x="234.5" y="497.7" width="8" height="2.6" rx="1.3" fill="none" stroke="#666" stroke-width="0.8" transform="rotate(27 238.5 499.0)"/>
<rect x="476" y="546.5" width="9" height="2.6" rx="1.3" fill="none" stroke="#666" stroke-width="0.8" transform="rotate(-25 480.5 547.8)"/>
<path class="kf" d="M305.8 464.6 L305.8 475.1 Q308.0 477.1 310.2 475.1 L310.2 464.6 Z"/>
<line class="gl" x1="306.4" y1="466.6" x2="309.6" y2="467.3"/>
<line class="gl" x1="306.4" y1="468.3" x2="309.6" y2="469.0"/>
<line class="gl" x1="306.4" y1="470.0" x2="309.6" y2="470.7"/>
<line class="gl" x1="306.4" y1="471.7" x2="309.6" y2="472.4"/>
<line class="gl" x1="306.4" y1="473.4" x2="309.6" y2="474.1"/>
<line class="gl" x1="306.4" y1="475.1" x2="309.6" y2="475.8"/>
<ellipse class="kf" cx="308.0" cy="463.2" rx="4.6" ry="2.3" style="stroke-width:1.2"/>
<path class="kf" d="M304.0 463.2 L305.0 459.6 Q305.0 458.0 306.6 458.0 L309.4 458.0 Q311.0 458.0 311.0 459.6 L312.0 463.2 Z" style="stroke-width:1.2"/>
<ellipse class="g" cx="308.0" cy="460.2" rx="2.1" ry="0.8"/>
<line class="k" x1="312.5" y1="462.5" x2="316.0" y2="462.5"/>
<line class="k" x1="308.0" y1="477.0" x2="308.0" y2="494.5"/>
<path class="kf" d="M418.4 527.2 L418.4 537.7 Q420.6 539.7 422.8 537.7 L422.8 527.2 Z"/>
<line class="gl" x1="419.0" y1="529.2" x2="422.2" y2="529.9"/>
<line class="gl" x1="419.0" y1="530.9" x2="422.2" y2="531.6"/>
<line class="gl" x1="419.0" y1="532.6" x2="422.2" y2="533.3"/>
<line class="gl" x1="419.0" y1="534.3" x2="422.2" y2="535.0"/>
<line class="gl" x1="419.0" y1="536.0" x2="422.2" y2="536.7"/>
<line class="gl" x1="419.0" y1="537.7" x2="422.2" y2="538.4"/>
<ellipse class="kf" cx="420.6" cy="525.8" rx="4.6" ry="2.3" style="stroke-width:1.2"/>
<path class="kf" d="M416.6 525.8 L417.6 522.2 Q417.6 520.6 419.2 520.6 L422.0 520.6 Q423.6 520.6 423.6 522.2 L424.6 525.8 Z" style="stroke-width:1.2"/>
<ellipse class="g" cx="420.6" cy="522.8" rx="2.1" ry="0.8"/>
<line class="k" x1="425.3" y1="524.5" x2="428.5" y2="524.5"/>
<line class="k" x1="420.6" y1="540.0" x2="420.6" y2="555.4"/>
<path class="kf" d="M162.6 476.0 L165.2 479.8 Q168.2 481.2 171.2 479.8 L173.8 476.0 Z" style="fill:#ddd"/>
<ellipse class="kf" cx="168.2" cy="475.2" rx="6" ry="2.7"/>
<ellipse class="k" cx="168.2" cy="475.2" rx="3" ry="1.3"/>
<line class="k" x1="155.6" y1="475.7" x2="162.0" y2="475.7"/>
<path class="kf" d="M511.8 537.2 L514.4 541.0 Q517.4 542.4 520.4 541.0 L523.0 537.2 Z" style="fill:#ddd"/>
<ellipse class="kf" cx="517.4" cy="536.4" rx="6" ry="2.7"/>
<ellipse class="k" cx="517.4" cy="536.4" rx="3" ry="1.3"/>
<line class="k" x1="523.5" y1="538.3" x2="529.8" y2="538.3"/>
<line class="k" x1="287.6" y1="650.0" x2="287.6" y2="688.0"/>
<line class="k" x1="308.2" y1="656.0" x2="308.2" y2="690.0"/>
<ellipse class="kf" cx="287.4" cy="725.8" rx="11.6" ry="4.5" style="stroke-width:1.25"/>
<path class="k" d="M277.4 723.8 A11 4 0 0 0 297.4 723.8" style="stroke-width:1.6;stroke-dasharray:1 0.8"/>
<ellipse class="kf" cx="264.9" cy="719.3" rx="2.2" ry="1.6"/>
<ellipse class="kf" cx="308.9" cy="719.3" rx="2.2" ry="1.6"/>
<ellipse class="kf" cx="287.4" cy="703.6" rx="35.3" ry="20.0" style="stroke-width:1.25"/>
<ellipse class="kf" cx="287.4" cy="701.8" rx="35.1" ry="20.0" style="stroke-width:1.4"/>
<ellipse class="g" cx="287.4" cy="702.4" rx="33.1" ry="18.0"/>
<path class="k" d="M271.6 686.3 L274.4 696.8" style="stroke-width:1.25"/>
<path class="k" d="M303.2 686.3 L300.4 696.8" style="stroke-width:1.25"/>
<path class="k" d="M274.4 696.8 L274.4 719.6" style="stroke-width:1.25"/>
<path class="k" d="M300.4 696.8 L300.4 719.6" style="stroke-width:1.25"/>
<path class="k" d="M255.9 699.2 L274.4 701.5" style="stroke-width:1.25"/>
<path class="k" d="M256.9 710.5 L274.4 708.3" style="stroke-width:1.25"/>
<path class="k" d="M320.2 698.6 L300.4 701.5" style="stroke-width:1.25"/>
<path class="k" d="M319.1 710.5 L300.4 708.3" style="stroke-width:1.25"/>
<path class="k" d="M255.9 699.2 L254.4 703.8 L256.9 710.5" />
<path class="k" d="M320.2 698.6 L321.4 703.8 L319.1 710.5" />
<path class="g" d="M274.4 708.3 L265.4 715.8" />
<path class="g" d="M300.4 708.3 L309.4 715.8" />
<path class="g" d="M262.4 692.8 L272.4 698.8" />
<path class="g" d="M312.4 692.8 L302.4 698.8" />
<path class="k" d="M277.4 719.6 L282.4 716.3 L292.4 716.3 L297.4 719.6" style="stroke-width:1.25"/>
<line class="k" x1="287.4" y1="710.3" x2="287.4" y2="718.8"/>
<ellipse class="k" cx="266.4" cy="690.1" rx="1.8" ry="1.1"/>
<ellipse class="k" cx="308.3" cy="690.1" rx="1.8" ry="1.1"/>
<ellipse class="k" cx="265.9" cy="714.5" rx="1.8" ry="1.1"/>
<ellipse class="k" cx="307.8" cy="714.5" rx="1.8" ry="1.1"/>
<ellipse class="kf" cx="287.4" cy="694.1" rx="11.9" ry="5.1" style="stroke-width:1.4"/>
<ellipse class="k" cx="287.4" cy="694.1" rx="8.8" ry="3.6" style="stroke-width:1.3"/>
<path class="kf" d="M282.1 686.2 L282.1 695.3 A5.3 2.2 0 0 0 292.7 695.3 L292.7 686.2" style="stroke-width:1.25"/>
<ellipse class="kf" cx="287.4" cy="686.2" rx="5.3" ry="2.2" style="stroke-width:1.25"/>
<line class="k" x1="246.9" y1="703.4" x2="252.0" y2="703.4"/>
<line class="k" x1="287.3" y1="729.0" x2="287.3" y2="766.0"/>
<line class="k" x1="399.8" y1="676.0" x2="399.8" y2="750.0"/>
<line class="k" x1="421.3" y1="671.0" x2="421.3" y2="752.0"/>
<ellipse class="kf" cx="399.6" cy="789.5" rx="11.6" ry="4.5" style="stroke-width:1.25"/>
<path class="k" d="M389.6 787.5 A11 4 0 0 0 409.6 787.5" style="stroke-width:1.6;stroke-dasharray:1 0.8"/>
<ellipse class="kf" cx="377.1" cy="783.0" rx="2.2" ry="1.6"/>
<ellipse class="kf" cx="421.1" cy="783.0" rx="2.2" ry="1.6"/>
<ellipse class="kf" cx="399.6" cy="767.3" rx="35.3" ry="20.0" style="stroke-width:1.25"/>
<ellipse class="kf" cx="399.6" cy="765.5" rx="35.1" ry="20.0" style="stroke-width:1.4"/>
<ellipse class="g" cx="399.6" cy="766.1" rx="33.1" ry="18.0"/>
<path class="k" d="M383.8 750.0 L386.6 760.5" style="stroke-width:1.25"/>
<path class="k" d="M415.4 750.0 L412.6 760.5" style="stroke-width:1.25"/>
<path class="k" d="M386.6 760.5 L386.6 783.3" style="stroke-width:1.25"/>
<path class="k" d="M412.6 760.5 L412.6 783.3" style="stroke-width:1.25"/>
<path class="k" d="M368.1 762.9 L386.6 765.2" style="stroke-width:1.25"/>
<path class="k" d="M369.1 774.2 L386.6 772.0" style="stroke-width:1.25"/>
<path class="k" d="M432.4 762.3 L412.6 765.2" style="stroke-width:1.25"/>
<path class="k" d="M431.3 774.2 L412.6 772.0" style="stroke-width:1.25"/>
<path class="k" d="M368.1 762.9 L366.6 767.5 L369.1 774.2" />
<path class="k" d="M432.4 762.3 L433.6 767.5 L431.3 774.2" />
<path class="g" d="M386.6 772.0 L377.6 779.5" />
<path class="g" d="M412.6 772.0 L421.6 779.5" />
<path class="g" d="M374.6 756.5 L384.6 762.5" />
<path class="g" d="M424.6 756.5 L414.6 762.5" />
<path class="k" d="M389.6 783.3 L394.6 780.0 L404.6 780.0 L409.6 783.3" style="stroke-width:1.25"/>
<line class="k" x1="399.6" y1="774.0" x2="399.6" y2="782.5"/>
<ellipse class="k" cx="378.6" cy="753.8" rx="1.8" ry="1.1"/>
<ellipse class="k" cx="420.5" cy="753.8" rx="1.8" ry="1.1"/>
<ellipse class="k" cx="378.1" cy="778.2" rx="1.8" ry="1.1"/>
<ellipse class="k" cx="420.0" cy="778.2" rx="1.8" ry="1.1"/>
<ellipse class="kf" cx="399.6" cy="757.8" rx="11.9" ry="5.1" style="stroke-width:1.4"/>
<ellipse class="k" cx="399.6" cy="757.8" rx="8.8" ry="3.6" style="stroke-width:1.3"/>
<path class="kf" d="M394.3 749.9 L394.3 759.0 A5.3 2.2 0 0 0 404.9 759.0 L404.9 749.9" style="stroke-width:1.25"/>
<ellipse class="kf" cx="399.6" cy="749.9" rx="5.3" ry="2.2" style="stroke-width:1.25"/>
<line class="k" x1="436.0" y1="770.5" x2="441.5" y2="770.5"/>
<line class="k" x1="399.8" y1="795.0" x2="399.8" y2="834.0"/>
<path class="kf" d="M252.0 779.8 L253.8 783.4 L262.1 789.0 L267.6 790.8 L309.0 766.0 L311.7 761.4 L333.8 754.9 L335.6 757.7 L355.9 744.8 L357.7 742.1 L343.0 730.1 L322.7 743.0 L319.1 747.6 L310.8 745.7 L295.2 754.9 L256.6 775.2Z" style="stroke-width:1.2"/>
<path class="g" d="M253.8 783.4 L258.0 781.0 L296.0 760.0 L310.0 752.0 L333.0 745.0 L343.0 739.0 L357.7 742.1" />
<path class="g" d="M295.2 754.9 L301.0 760.0 L309.0 766.0" />
<path class="g" d="M322.7 743.0 L330.0 747.0 L335.6 757.7" />
<path class="g" d="M343.0 730.1 L350.0 736.0 L357.7 742.1" />
<path class="k" d="M282.3 765.5 L293.3 765.0 L288.0 770.6Z" />
<line class="k" x1="287.3" y1="758.0" x2="287.3" y2="767.0"/>
<line class="k" x1="287.3" y1="781.0" x2="287.3" y2="790.5"/>
<ellipse class="kf" cx="316.3" cy="748.8" rx="3.5" ry="2.5"/>
<ellipse class="k" cx="308" cy="753.3" rx="1.4" ry="1"/>
<ellipse class="k" cx="259.3" cy="782.5" rx="1.5" ry="1"/>
<ellipse class="k" cx="267.6" cy="777.9" rx="1.2" ry="0.9"/>
<line class="k" x1="352.6" y1="731.4" x2="348.7" y2="736.0"/>
<path class="kf" d="M262 755.2 L265.8 754 L269.6 755.2 L269.8 760 L265.8 761.6 L262 760 Z"/>
<ellipse class="k" cx="265.8" cy="757.6" rx="1.7" ry="1.3"/>
<line class="k" x1="256.8" y1="758.0" x2="261.5" y2="758.0"/>
<ellipse class="kf" cx="274" cy="753.3" rx="2" ry="1.7"/>
<line class="k" x1="270.2" y1="749.0" x2="272.5" y2="751.5"/>
<line class="k" x1="259.3" y1="782.0" x2="263.5" y2="761.0"/>
<line class="k" x1="267.6" y1="777.0" x2="273.2" y2="755.5"/>
<line class="g" x1="262.0" y1="773.0" x2="271.0" y2="771.0"/>
<path class="kf" d="M210.2 832.9 L233.6 821.2 L238.2 811.1 L242.9 807.2 L253.8 802.6 L263.1 803.3 L267.0 809.6 L268.6 815.0 L258.5 821.2 L241.3 829.8 L221.1 836.0 L216.5 835.2Z" style="stroke-width:1.2"/>
<path class="g" d="M215.0 833.0 L242.0 826.0 L254.5 820.0 L267.0 815.0" />
<path class="g" d="M238.2 811.1 L245.0 818.0 L250.0 826.0" />
<ellipse class="k" cx="252.2" cy="813.5" rx="1.5" ry="1"/>
<ellipse class="k" cx="260" cy="808.8" rx="1.3" ry="0.9"/>
<line class="k" x1="252.2" y1="813.0" x2="257.7" y2="790.9"/>
<line class="k" x1="260.0" y1="808.5" x2="264.7" y2="792.4"/>
<line class="k" x1="204.8" y1="832.9" x2="209.4" y2="832.9"/>
<path class="kf" d="M253 825 L252.5 833 L256 833 L256.3 825 Z"/>
<ellipse class="kf" cx="253.8" cy="835" rx="2.5" ry="1.8"/>
<line class="k" x1="257.5" y1="836.0" x2="261.5" y2="836.0"/>
<line class="k" x1="255.0" y1="825.0" x2="257.0" y2="818.0"/>
<line class="k" x1="243.5" y1="840.0" x2="247.6" y2="829.8"/>
<path class="kf" d="M276.4 797.3 L276.6 798.9 A11.1 6.8 0 0 0 298.4 798.9 L298.6 797.3 Z" style="stroke-width:1.15"/>
<ellipse class="kf" cx="287.5" cy="797.3" rx="11.1" ry="6.8" style="stroke-width:1.15"/>
<ellipse class="k" cx="287.5" cy="797.6" rx="2.6" ry="1.3"/>
<line class="k" x1="299.0" y1="797.7" x2="302.9" y2="797.7"/>
<line class="k" x1="287.3" y1="805.5" x2="287.3" y2="815.0"/>
<path class="kf" d="M284.6 816.2 L284.6 827.2 L289.8 827.2 L289.8 816.2 Q287.2 813.9 284.6 816.2 Z"/>
<line class="gl" x1="285.1" y1="816.7" x2="289.3" y2="817.3"/>
<line class="gl" x1="285.1" y1="818.3" x2="289.3" y2="818.9"/>
<line class="gl" x1="285.1" y1="819.9" x2="289.3" y2="820.5"/>
<line class="gl" x1="285.1" y1="821.5" x2="289.3" y2="822.1"/>
<line class="gl" x1="285.1" y1="823.1" x2="289.3" y2="823.7"/>
<line class="gl" x1="285.1" y1="824.7" x2="289.3" y2="825.3"/>
<line class="gl" x1="285.1" y1="826.3" x2="289.3" y2="826.9"/>
<ellipse class="kf" cx="287.2" cy="829.5" rx="4.6" ry="3.1" style="stroke-width:1.15"/>
<path class="g" d="M284.0 828.3 L285.0 831.3 L289.4 831.3 L290.4 828.3"/>
<path class="kf" d="M240.0 842.5 L240.0 850.5 L245.2 850.5 L245.2 842.5 Q242.6 840.2 240.0 842.5 Z"/>
<line class="gl" x1="240.5" y1="843.0" x2="244.7" y2="843.6"/>
<line class="gl" x1="240.5" y1="844.6" x2="244.7" y2="845.2"/>
<line class="gl" x1="240.5" y1="846.2" x2="244.7" y2="846.8"/>
<line class="gl" x1="240.5" y1="847.8" x2="244.7" y2="848.4"/>
<line class="gl" x1="240.5" y1="849.4" x2="244.7" y2="850.0"/>
<ellipse class="kf" cx="242.6" cy="852.8" rx="4.6" ry="3.1" style="stroke-width:1.15"/>
<path class="g" d="M239.4 851.6 L240.4 854.6 L244.8 854.6 L245.8 851.6"/>
<line class="k" x1="232.0" y1="852.5" x2="237.5" y2="852.5"/>
<line class="k" x1="292.6" y1="828.8" x2="297.2" y2="828.8"/>
<path class="kf" d="M333.2 808.8 L344.9 804.5 L361.8 815.2 L368.2 816.2 L372.4 815.2 L391.5 822.6 L393.7 825.8 L417.0 837.4 L419.1 843.8 L429.7 847.0 L436.1 852.3 L440.3 858.7 L462.5 868.8 L465.5 871.2 L461.0 879.0 L450.9 886.2 L427.6 871.4 L410.6 854.4 L400.0 851.2 L380.9 839.6 L364.0 831.1 L357.6 824.7 L338.5 815.2Z" style="stroke-width:1.25"/>
<path class="g" d="M338.5 815.2 L345.0 810.0 L361.8 815.2" />
<path class="g" d="M357.6 824.7 L364.0 820.0 L372.4 815.2" />
<path class="g" d="M364.0 831.1 L372.0 822.0" />
<path class="k" d="M380.9 839.6 L393.7 825.8" />
<path class="k" d="M400.0 851.2 L417.0 837.4" />
<path class="g" d="M410.6 854.4 L419.1 843.8" />
<path class="g" d="M427.6 871.4 L436.1 852.3" />
<path class="g" d="M440.3 858.7 L450.0 868.0 L450.9 886.2" />
<path class="k" d="M393.7 835.5 L405.3 835.3 L399.5 842.7Z" />
<ellipse class="kf" cx="370.3" cy="821.5" rx="3.6" ry="2.7"/>
<ellipse class="k" cx="370.3" cy="821.3" rx="1.6" ry="1.1"/>
<ellipse class="kf" cx="428.7" cy="852.3" rx="3.6" ry="2.7"/>
<ellipse class="k" cx="428.7" cy="852.1" rx="1.6" ry="1.1"/>
<ellipse class="k" cx="379.9" cy="824.7" rx="1.4" ry="1"/>
<ellipse class="k" cx="419.1" cy="848" rx="1.4" ry="1"/>
<line class="k" x1="465.5" y1="871.2" x2="472.5" y2="871.2"/>
<line class="k" x1="399.8" y1="853.5" x2="399.8" y2="864.0"/>
<path class="kf" d="M388.3 869.2 L388.5 870.8 A11.3 7.0 0 0 0 410.7 870.8 L410.9 869.2 Z" style="stroke-width:1.15"/>
<ellipse class="kf" cx="399.6" cy="869.2" rx="11.3" ry="7.0" style="stroke-width:1.15"/>
<ellipse class="k" cx="399.6" cy="869.5" rx="2.6" ry="1.3"/>
<line class="k" x1="383.0" y1="870.0" x2="388.0" y2="870.0"/>
<line class="k" x1="399.7" y1="878.0" x2="399.7" y2="887.5"/>
<path class="kf" d="M397.1 888.7 L397.1 900.2 L402.3 900.2 L402.3 888.7 Q399.7 886.4 397.1 888.7 Z"/>
<line class="gl" x1="397.6" y1="889.2" x2="401.8" y2="889.8"/>
<line class="gl" x1="397.6" y1="890.8" x2="401.8" y2="891.4"/>
<line class="gl" x1="397.6" y1="892.4" x2="401.8" y2="893.0"/>
<line class="gl" x1="397.6" y1="894.0" x2="401.8" y2="894.6"/>
<line class="gl" x1="397.6" y1="895.6" x2="401.8" y2="896.2"/>
<line class="gl" x1="397.6" y1="897.2" x2="401.8" y2="897.8"/>
<line class="gl" x1="397.6" y1="898.8" x2="401.8" y2="899.4"/>
<line class="gl" x1="397.6" y1="900.4" x2="401.8" y2="901.0"/>
<ellipse class="kf" cx="399.7" cy="902.2" rx="4.6" ry="3.1" style="stroke-width:1.15"/>
<path class="g" d="M396.5 901.0 L397.5 904.0 L401.9 904.0 L402.9 901.0"/>
<line class="k" x1="389.0" y1="901.3" x2="394.5" y2="901.3"/>
<text x="0" y="0" transform="translate(174,511.2) scale(0.6,1)" style="font-size:39.3px;letter-spacing:3.8px;fill:#f4c2c5;stroke:none;mix-blend-mode:multiply">www.mountfieldspares.direct</text>
</svg></body></html>
